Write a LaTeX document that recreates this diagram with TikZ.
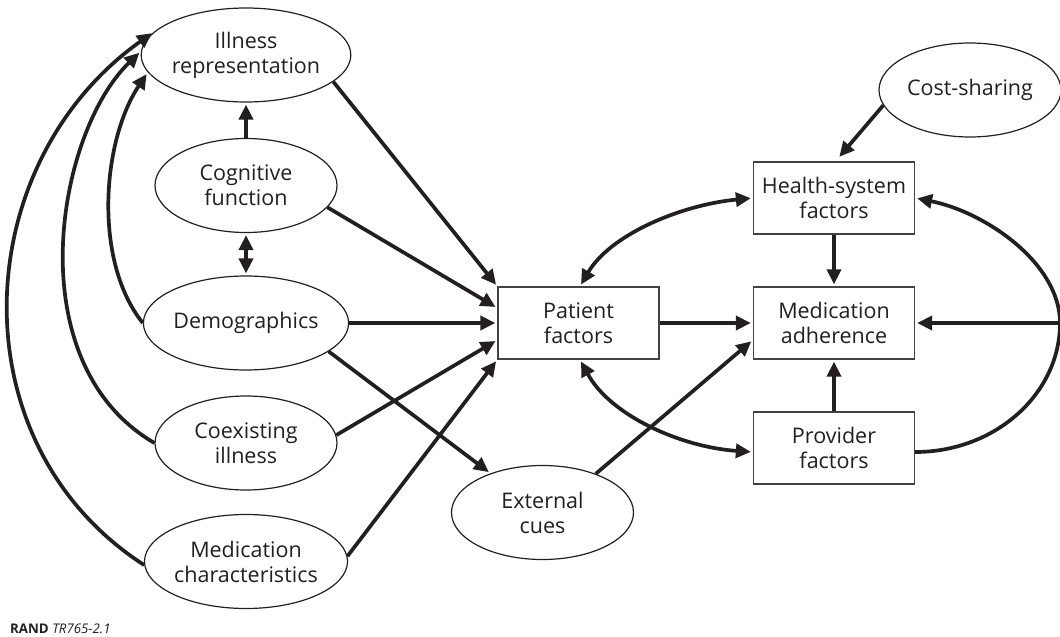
\documentclass[tikz,border=0pt]{standalone}
\usepackage{fontspec}
\setmainfont{Open Sans}
\usetikzlibrary{shapes.geometric,arrows.meta}
\definecolor{ink}{HTML}{231F20}
\begin{document}
\begin{tikzpicture}[x=1pt,y=-1pt,
  lbl/.style={text=ink,align=center,font=\fontsize{21.5}{25}\selectfont},
  oval/.style={lbl,ellipse,draw=ink,line width=1.2pt,minimum width=182pt,minimum height=94pt,inner sep=0pt},
  rbox/.style={lbl,rectangle,draw=ink!85,line width=1.3pt,minimum width=161pt,minimum height=72pt,inner sep=0pt},
  tip/.tip={Triangle[length=15pt,width=14pt]},
  arr/.style={draw=ink,line width=3.7pt,-tip,shorten >=2pt},
  darr/.style={draw=ink,line width=3.7pt,tip-tip,shorten >=2pt,shorten <=2pt}]
\useasboundingbox (0,0) rectangle (1060,637);

\node[oval] (ill) at (246,55) {Illness\\representation};
\node[oval] (cog) at (246,185.5) {Cognitive\\function};
\node[oval] (dem) at (246,323) {Demographics};
\node[oval] (coe) at (246,443) {Coexisting\\illness};
\node[oval] (med) at (246,561.5) {Medication\\characteristics};
\node[oval] (ext) at (542.5,512.5) {External\\cues};
\node[oval] (cost) at (970,90) {Cost-sharing};
\node[rbox] (pat) at (578.5,323) {Patient\\factors};
\node[rbox] (adh) at (834,323) {Medication\\adherence};
\node[rbox] (hs) at (834,198) {Health-system\\factors};
\node[rbox] (prov) at (834,448) {Provider\\factors};
\coordinate (rx) at (1060,323);

\node[anchor=base west,text=ink,font=\fontsize{13.3}{15}\selectfont,inner sep=0pt] (cap) at (10,633) {\textbf{RAND} \textit{TR765-2.1}};

% left column
\draw[arr] (cog.north) -- (ill.south);
\draw[darr] (cog.south) -- (dem.north);

% into patient factors
\draw[arr] (ill.-17) -- (pat.north west);
\draw[arr] (cog.-15) -- ([yshift=15pt]pat.west);
\draw[arr] (dem.east) -- (pat.west);
\draw[arr] (coe.5) -- ([yshift=-17pt]pat.west);
\draw[arr] (med.3) -- (pat.south west);

% external cues
\draw[arr] (dem.-19) -- (ext);
\draw[arr] (ext.36) -- ([yshift=-17pt]adh.west);

% into adherence
\draw[arr] (pat.east) -- (adh.west);
\draw[arr] (hs.south) -- (adh.north);
\draw[arr] (prov.north) -- (adh.south);
\draw[arr] (rx) -- (adh.east);
\draw[arr] (cost.190) -- ([xshift=4pt,yshift=3pt]hs.north);

% feedback curves
\draw[arr] ([yshift=-4pt]prov.east) .. controls (995,452) and (1060,394) .. (rx)
  .. controls (1060,263) and (985,212) .. (hs.east);
\draw[darr] ([xshift=1.5pt]pat.north) .. controls (610,235) and (680,205) .. (hs.west);
\draw[darr] ([xshift=1.5pt]pat.south) .. controls (610,415) and (680,447) .. ([yshift=-4pt]prov.west);

% left arcs into illness representation
\draw[arr] (med.182) .. controls (-45,443) and (-32,164) .. (ill.166);
\draw[arr] (coe.west) .. controls (16,362) and (57,132) .. (ill.178);
\draw[arr] (dem.west) .. controls (93,261) and (102,141) .. (ill.190);
\end{tikzpicture}
\end{document}
